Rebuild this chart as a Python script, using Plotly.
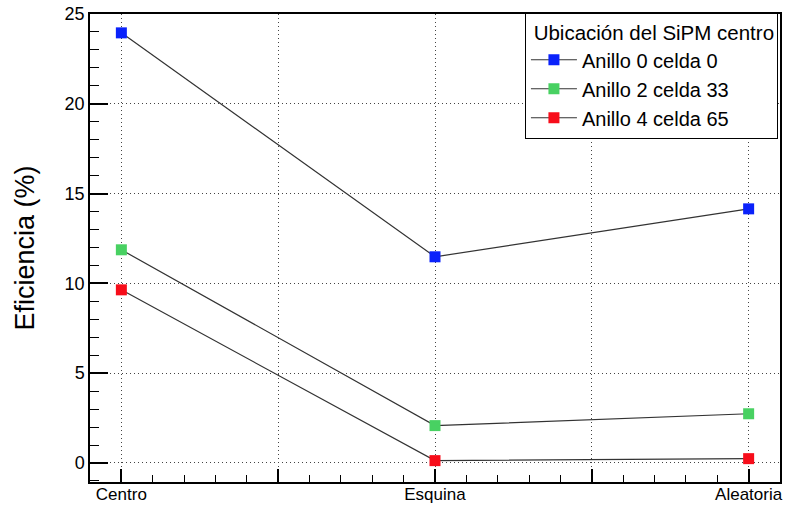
import plotly.graph_objects as go

categories = ["Centro", "Esquina", "Aleatoria"]
x_pos = [0, 1, 2]
series_names = ["Anillo 0 celda 0", "Anillo 2 celda 33", "Anillo 4 celda 65"]
anillo0 = [23.95, 11.48, 14.15]
anillo2 = [11.87, 2.08, 2.74]
anillo4 = [9.64, 0.13, 0.24]
colors = ["#0a22fb", "#48d162", "#f70d1a"]
y_ticks = [0, 5, 10, 15, 20, 25]
x_ticks = [0, 0.5, 1, 1.5, 2]
x_ticktext = ["Centro", "", "Esquina", "", "Aleatoria"]

FONT = "Liberation Sans, Arial, Helvetica, sans-serif"

fig = go.Figure()
for name, vals, col in zip(series_names, [anillo0, anillo2, anillo4], colors):
    fig.add_trace(go.Scatter(
        x=x_pos, y=vals, name=name, mode="lines+markers",
        legendgroup=name,
        line=dict(color="#333333", width=1.2),
        marker=dict(symbol="square", size=11, color=col, line=dict(width=0)),
    ))

fig.update_layout(
    width=786, height=507,
    margin=dict(l=90, r=6, t=14, b=25),
    paper_bgcolor="white", plot_bgcolor="white",
    font=dict(family=FONT, color="black", size=18),
    showlegend=True,
    legend=dict(
        x=0.997, y=1.003, xanchor="right", yanchor="top",
        bgcolor="white", bordercolor="black", borderwidth=1,
        font=dict(size=20, family=FONT),
        title=dict(text=" Ubicación del SiPM centro", font=dict(size=20.5, family=FONT)),
        itemwidth=46, tracegroupgap=0,
    ),
)
fig.update_xaxes(
    range=[-0.1, 2.1], automargin=False,
    tickmode="array", tickvals=x_ticks, ticktext=x_ticktext,
    ticks="inside", ticklen=13, tickwidth=1.5, tickcolor="black",
    showline=True, linecolor="black", linewidth=1.5, mirror=True,
    showgrid=True, gridcolor="#444444", gridwidth=1, griddash="1px,3px",
    zeroline=False,
    tickfont=dict(size=17), ticklabelstandoff=-4,
    minor=dict(tick0=0, dtick=0.1, ticks="inside", ticklen=7, tickwidth=1.2,
               tickcolor="black", showgrid=False),
)
fig.update_yaxes(
    range=[-1.06, 25], automargin=False,
    tickmode="array", tickvals=y_ticks,
    ticks="inside", ticklen=18, tickwidth=1.5, tickcolor="black",
    showline=True, linecolor="black", linewidth=1.5, mirror=True,
    showgrid=True, gridcolor="#444444", gridwidth=1, griddash="1px,3px",
    zeroline=False,
    tickfont=dict(size=18),
    title=dict(text="Eficiencia (%)", font=dict(size=27), standoff=22),
    minor=dict(tick0=0, dtick=1, ticks="inside", ticklen=9, tickwidth=1.2,
               tickcolor="black", showgrid=False),
)

fig.write_html("out.html")
